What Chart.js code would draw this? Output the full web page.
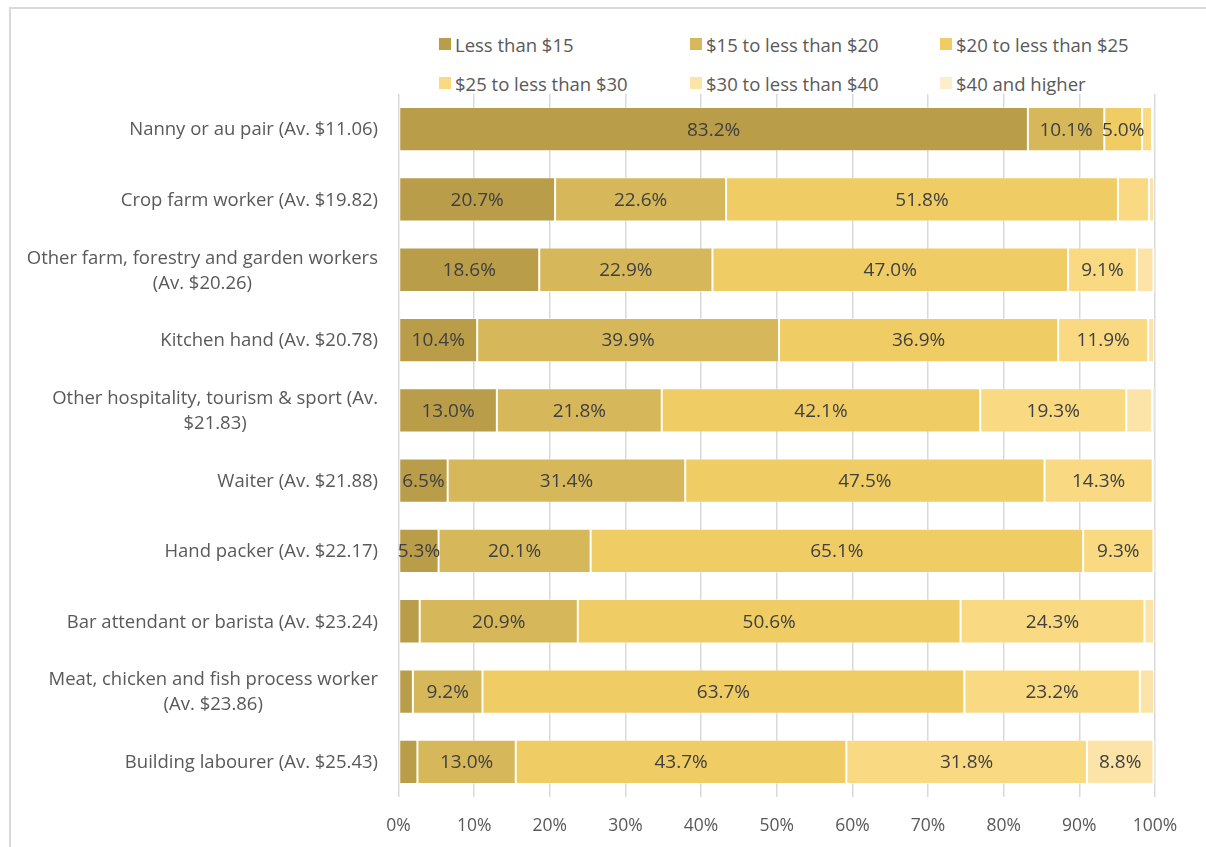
<!DOCTYPE html>
<html>
<head>
<meta charset="utf-8">
<script src="https://cdn.jsdelivr.net/npm/chart.js@4/dist/chart.umd.min.js"></script>
<style>
  html, body { margin: 0; padding: 0; background: #fff; }
  #wrap { position: relative; width: 1206px; height: 847px; overflow: hidden; font-family: "Open Sans", Lato, sans-serif; }
  #frame { position: absolute; left: 9px; top: 7px; width: 1300px; height: 900px; border-top: 2px solid #D9D9D9; border-left: 2px solid #D9D9D9; }
  #legend { position: absolute; left: 439px; top: 32px; display: grid; grid-template-columns: 251px 250px 250px; row-gap: 15px; }
  .item { display: flex; align-items: center; height: 24px; font-size: 18.5px; color: #595959; white-space: nowrap; }
  .swatch { width: 12px; height: 12px; margin-right: 4px; }
  canvas { position: absolute; left: 0; top: 0; }
</style>
</head>
<body>
<div id="wrap">
  <div id="frame"></div>
  <div id="legend"></div>
  <canvas id="chart" width="1206" height="847"></canvas>
</div>
<script>
const categories = [
  ["Nanny or au pair (Av. $11.06)"],
  ["Crop farm worker (Av. $19.82)"],
  ["Other farm, forestry and garden workers", "(Av. $20.26)"],
  ["Kitchen hand (Av. $20.78)"],
  ["Other hospitality, tourism & sport (Av.", "$21.83)"],
  ["Waiter (Av. $21.88)"],
  ["Hand packer (Av. $22.17)"],
  ["Bar attendant or barista (Av. $23.24)"],
  ["Meat, chicken and fish process worker", "(Av. $23.86)"],
  ["Building labourer (Av. $25.43)"]
];

const bandLabels = [
  "Less than $15", "$15 to less than $20", "$20 to less than $25",
  "$25 to less than $30", "$30 to less than $40", "$40 and higher"
];

const under15   = [83.2, 20.7, 18.6, 10.4, 13.0, 6.5, 5.3, 2.8, 1.9, 2.5];
const from15    = [10.1, 22.6, 22.9, 39.9, 21.8, 31.4, 20.1, 20.9, 9.2, 13.0];
const from20    = [5.0, 51.8, 47.0, 36.9, 42.1, 47.5, 65.1, 50.6, 63.7, 43.7];
const from25    = [1.3, 4.1, 9.1, 11.9, 19.3, 14.3, 9.3, 24.3, 23.2, 31.8];
const from30    = [0.3, 0.7, 2.2, 0.8, 3.4, 0.3, 0.2, 1.3, 1.9, 8.8];
const over40    = [0.1, 0.1, 0.2, 0.1, 0.4, 0.0, 0.0, 0.1, 0.1, 0.2];

const xTicks = [0, 10, 20, 30, 40, 50, 60, 70, 80, 90, 100];

const colors = ["#B99D48", "#D6B85A", "#F0CD64", "#F9DA82", "#FCE4A8", "#FDEDCC"];
const series = [under15, from15, from20, from25, from30, over40];

const FONT = "'Open Sans', Lato, sans-serif";

// legend laid out as a 3x2 grid
const legendEl = document.getElementById("legend");
bandLabels.forEach((label, i) => {
  const item = document.createElement("div");
  item.className = "item";
  item.innerHTML = `<span class="swatch" style="background:${colors[i]}"></span><span></span>`;
  item.lastChild.textContent = label;
  legendEl.appendChild(item);
});

// percentage labels inside segments of 5% or more
const segmentLabels = {
  id: "segmentLabels",
  afterDatasetsDraw(chart) {
    const ctx = chart.ctx;
    ctx.save();
    ctx.font = `19px ${FONT}`;
    ctx.fillStyle = "#404040";
    ctx.textAlign = "center";
    ctx.textBaseline = "middle";
    chart.data.datasets.forEach((ds, di) => {
      const meta = chart.getDatasetMeta(di);
      meta.data.forEach((bar, i) => {
        const v = ds.data[i];
        if (v < 5) return;
        ctx.fillText(v.toFixed(1) + "%", (bar.x + bar.base) / 2, bar.y + 1);
      });
    });
    ctx.restore();
  }
};

// category labels: block right-aligned to the axis, lines centred in the block
const categoryLabels = {
  id: "categoryLabels",
  afterDraw(chart) {
    const ctx = chart.ctx;
    const yScale = chart.scales.y;
    const right = 378;
    const lineH = 25;
    ctx.save();
    ctx.font = `18.5px ${FONT}`;
    ctx.fillStyle = "#595959";
    ctx.textAlign = "center";
    ctx.textBaseline = "middle";
    categories.forEach((lines, i) => {
      const y = yScale.getPixelForValue(i);
      const w = Math.max(...lines.map((l) => ctx.measureText(l).width));
      const cx = right - w / 2;
      const top = y - ((lines.length - 1) * lineH) / 2;
      lines.forEach((l, k) => ctx.fillText(l, cx, top + k * lineH + 1));
    });
    ctx.restore();
  }
};

new Chart(document.getElementById("chart"), {
  type: "bar",
  data: {
    labels: categories.map((c) => c.join(" ")),
    datasets: series.map((data, i) => ({
      label: bandLabels[i],
      data,
      backgroundColor: colors[i],
      borderColor: "rgba(255,255,255,0.35)",
      borderWidth: 1,
      borderSkipped: false,
      categoryPercentage: 1,
      barPercentage: 0.63
    }))
  },
  options: {
    indexAxis: "y",
    responsive: false,
    animation: false,
    devicePixelRatio: 1,
    layout: { padding: { top: 94, right: 51, bottom: 0, left: 0 } },
    plugins: {
      legend: { display: false },
      tooltip: { enabled: false }
    },
    scales: {
      x: {
        stacked: true,
        min: 0,
        max: 100,
        afterBuildTicks: (scale) => { scale.ticks = xTicks.map((value) => ({ value })); },
        afterFit: (scale) => { scale.height = 50; },
        ticks: {
          callback: (v) => v + "%",
          color: "#595959",
          font: { family: FONT, size: 17.5 },
          padding: 19,
          maxRotation: 0
        },
        grid: { color: "#D9D9D9", lineWidth: 1.5, drawTicks: false },
        border: { display: false }
      },
      y: {
        stacked: true,
        afterFit: (scale) => { scale.width = 398.5; },
        ticks: { display: false },
        grid: { display: false },
        border: { display: false }
      }
    }
  },
  plugins: [segmentLabels, categoryLabels]
});
</script>
</body>
</html>
